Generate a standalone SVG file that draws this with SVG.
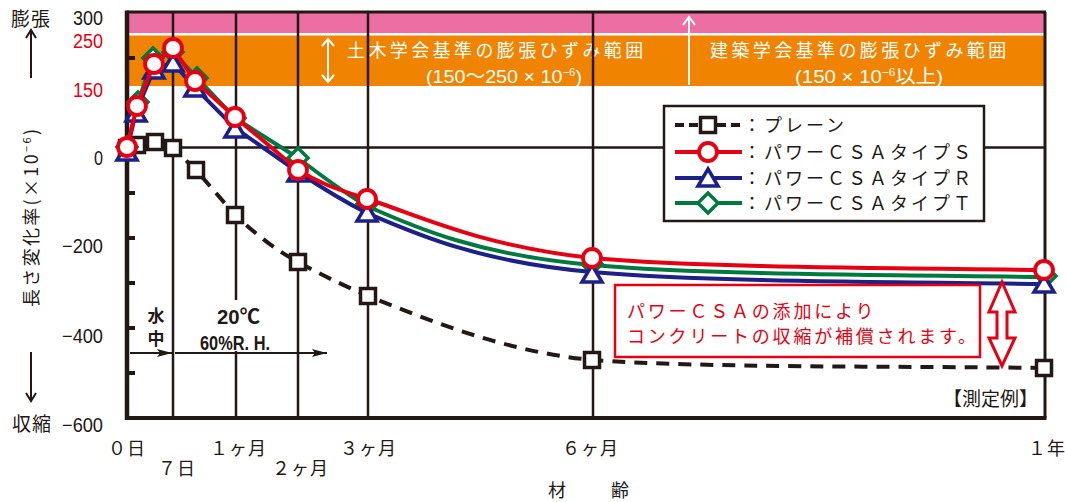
<svg xmlns="http://www.w3.org/2000/svg" width="1065" height="502" viewBox="0 0 1065 502">
<style>
.jp{font-family:"Noto Sans CJK JP","Noto Sans",sans-serif;}
.num{font-family:"Liberation Sans","Noto Sans CJK JP",sans-serif;}
.grid{stroke:#231815;stroke-width:2.5;fill:none;}
.k{fill:#231815;}
.w{fill:#fff;}
.r{fill:#e60012;}
.wl{stroke:#fff;stroke-width:2;fill:none;}
.kl{stroke:#231815;stroke-width:2;fill:none;}
.lgt{font-size:18px;letter-spacing:3px;}
</style>
<defs>
<g id="mSq"><rect x="-7.5" y="-7.5" width="15" height="15" fill="#fff" stroke="#231815" stroke-width="3.5"/></g>
<g id="mCi"><circle r="9" fill="#fff" stroke="#e60012" stroke-width="3.8"/></g>
<g id="mTr"><path d="M0,-9 L10,8 L-10,8 Z" fill="#fff" stroke="#1d2088" stroke-width="3.5"/></g>
<g id="mDi"><path d="M0,-10 L10,0 L0,10 L-10,0 Z" fill="#fff" stroke="#00793f" stroke-width="3.5"/></g>
<marker id="ah" markerWidth="15" markerHeight="8" refX="15" refY="4" orient="auto" markerUnits="userSpaceOnUse"><path d="M0,0 L15,4 L0,8 L3,4 Z" fill="#231815"/></marker>
</defs>
<rect x="0" y="0" width="1065" height="502" fill="#fff"/>

<g id="bands">
<rect x="127" y="13" width="918" height="20" fill="#ec6ea2"/>
<rect x="127" y="35.5" width="918" height="50.5" fill="#f08300"/>
<path class="wl" d="M328,39 V82 M322,46 L328,39 L334,46 M322,75 L328,82 L334,75"/>
<path class="wl" d="M689,85 V17 M683,25 L689,17 L695,25"/>
<text class="jp w" x="347" y="57" font-size="18" letter-spacing="3.4">土木学会基準の膨張ひずみ範囲</text>
<text class="num w" x="426" y="83" font-size="19" textLength="156" lengthAdjust="spacingAndGlyphs">(150～250 × 10<tspan font-size="11" dy="-7">−6</tspan><tspan dy="7">)</tspan></text>
<text class="jp w" x="710" y="57" font-size="18" letter-spacing="3.4">建築学会基準の膨張ひずみ範囲</text>
<text class="num w" x="795" y="83" font-size="19" textLength="148" lengthAdjust="spacingAndGlyphs">(150 × 10<tspan font-size="11" dy="-7">−6</tspan><tspan dy="7">以上)</tspan></text>
</g>

<g id="grid">
<path class="grid" d="M173,12 V418 M298,12 V418 M368,12 V418 M593,12 V418 M236,12 V418 M127,147.5 H1045"/>
</g>

<g id="frame">
<path d="M127,12 H1046 M1045,12 V418" stroke="#231815" stroke-width="3" fill="none"/>
<path d="M127,10.5 V420" stroke="#231815" stroke-width="4.5" fill="none"/>
<path d="M125,418 H1046.5" stroke="#231815" stroke-width="4" fill="none"/>
<path d="M127,58 h8 M127,103 h8 M127,193 h8 M127,238 h8 M127,283 h8 M127,328 h8 M127,373 h8" stroke="#231815" stroke-width="4" fill="none"/>
</g>

<g id="y-labels">
<text class="num k" x="73" y="25" font-size="20" textLength="30" lengthAdjust="spacingAndGlyphs">300</text>
<text class="num r" x="73" y="48" font-size="20" textLength="30" lengthAdjust="spacingAndGlyphs">250</text>
<text class="num r" x="73" y="97" font-size="20" textLength="30" lengthAdjust="spacingAndGlyphs">150</text>
<text class="num k" x="94" y="165" font-size="20" textLength="9" lengthAdjust="spacingAndGlyphs">0</text>
<text class="num k" x="62" y="253" font-size="20" textLength="41" lengthAdjust="spacingAndGlyphs">−200</text>
<text class="num k" x="62" y="343" font-size="20" textLength="41" lengthAdjust="spacingAndGlyphs">−400</text>
<text class="num k" x="62" y="432" font-size="20" textLength="41" lengthAdjust="spacingAndGlyphs">−600</text>
<text class="jp k" x="31" y="26" font-size="19" text-anchor="middle" letter-spacing="1">膨張</text>
<path class="kl" d="M31,78 V30 M26,38 L31,30 L36,38"/>
<text class="jp k" transform="translate(38,218) rotate(-90)" x="-89" y="0" font-size="18" textLength="178" lengthAdjust="spacing">長さ変化率(×10<tspan font-size="11" dy="-7">−6</tspan><tspan dy="7">)</tspan></text>
<path class="kl" d="M31,352 V401 M26,393 L31,401 L36,393"/>
<text class="jp k" x="32" y="431" font-size="19" text-anchor="middle" letter-spacing="1">収縮</text>
</g>

<g id="x-labels" class="jp k" font-size="18">
<text x="108" y="455" letter-spacing="1">０日</text>
<text x="158" y="475" letter-spacing="1">７日</text>
<text x="210" y="455" letter-spacing="1">１ヶ月</text>
<text x="272" y="475" letter-spacing="1">２ヶ月</text>
<text x="340" y="455" letter-spacing="1">３ヶ月</text>
<text x="562" y="455" letter-spacing="1">６ヶ月</text>
<text x="1028" y="455" letter-spacing="1">１年</text>
<text x="548" y="497">材</text>
<text x="611" y="497">齢</text>
</g>

<g id="conditions">
<rect x="203" y="300" width="66" height="51" fill="#fff"/>
<text class="jp k" x="156" y="322" font-size="17" font-weight="bold" text-anchor="middle">水</text>
<text class="jp k" x="156" y="345" font-size="17" font-weight="bold" text-anchor="middle">中</text>
<text class="num k" x="217" y="324" font-size="20" font-weight="bold" textLength="43" lengthAdjust="spacingAndGlyphs">20℃</text>
<text class="num k" x="200" y="350" font-size="20" font-weight="bold" textLength="70" lengthAdjust="spacingAndGlyphs">60%R. H.</text>
<line x1="130" y1="353" x2="172" y2="353" stroke="#231815" stroke-width="2" marker-end="url(#ah)"/>
<line x1="175" y1="353" x2="327" y2="353" stroke="#231815" stroke-width="2" marker-end="url(#ah)"/>
</g>

<g id="connectors">
<g id="plain">
<path d="M127,148 L137,145 L155,142 L173,148 L196,170 L235,215 C258,236 276,250 298,262 C320,274 340,284 368,296 C440,325 510,352 592,360 C705,368 900,366 1044,368" fill="none" stroke="#231815" stroke-width="4" stroke-dasharray="13,9"/>
<use href="#mSq" x="127" y="148"/><use href="#mSq" x="137" y="145"/><use href="#mSq" x="155" y="142"/><use href="#mSq" x="173" y="148"/><use href="#mSq" x="196" y="170"/><use href="#mSq" x="235" y="215"/><use href="#mSq" x="298" y="262"/><use href="#mSq" x="368" y="296"/><use href="#mSq" x="592" y="360"/><use href="#mSq" x="1044" y="368"/>
</g>
<g id="typeT">
<path d="M127,147 L138,102 L153,58 L173,52 L197,78 L235,118 L298,158 C322,176 345,194 367,206 C416,228 479,255 592,265 C705,275 900,275 1044,277" fill="none" stroke="#00793f" stroke-width="4"/>
<use href="#mDi" x="127" y="147"/><use href="#mDi" x="138" y="102"/><use href="#mDi" x="153" y="58"/><use href="#mDi" x="173" y="52"/><use href="#mDi" x="197" y="78"/><use href="#mDi" x="235" y="118"/><use href="#mDi" x="298" y="158"/><use href="#mDi" x="367" y="204"/><use href="#mDi" x="592" y="264"/><use href="#mDi" x="1046" y="276"/>
</g>
<g id="typeR">
<path d="M127,150 L136,112 L154,69 L173,63 L195,88 L235,128 L298,172 C322,188 345,202 367,213 C416,234 479,262 592,272 C705,282 900,282 1044,284" fill="none" stroke="#1d2088" stroke-width="4"/>
<use href="#mTr" x="127" y="152"/><use href="#mTr" x="136" y="113"/><use href="#mTr" x="154" y="70"/><use href="#mTr" x="173" y="63"/><use href="#mTr" x="195" y="88"/><use href="#mTr" x="235" y="129"/><use href="#mTr" x="298" y="173"/><use href="#mTr" x="367" y="213"/><use href="#mTr" x="592" y="274"/><use href="#mTr" x="1044" y="284"/>
</g>
<g id="typeS">
<path d="M127,147 L137,106 L154,64 L173,48 L195,81 L235,117 L298,170 C320,184 340,190 367,199 C416,214 479,246 592,258 C705,268 900,268 1044,270" fill="none" stroke="#e60012" stroke-width="4"/>
<use href="#mCi" x="127" y="147"/><use href="#mCi" x="137" y="106"/><use href="#mCi" x="154" y="64"/><use href="#mCi" x="173" y="48"/><use href="#mCi" x="195" y="81"/><use href="#mCi" x="235" y="117"/><use href="#mCi" x="298" y="170"/><use href="#mCi" x="367" y="199"/><use href="#mCi" x="592" y="258"/><use href="#mCi" x="1044" y="270"/>
</g>
</g>

<g id="legend">
<rect x="664" y="106" width="320" height="115" fill="#fff" stroke="#231815" stroke-width="2.5"/>
<path d="M675,125 H742" stroke="#231815" stroke-width="4" stroke-dasharray="9,5"/>
<use href="#mSq" x="708" y="125"/>
<text class="jp k lgt" x="743" y="132">：プレーン</text>
<path d="M675,152 H742" stroke="#e60012" stroke-width="4"/>
<use href="#mCi" x="708" y="152"/>
<text class="jp k lgt" x="743" y="159">：パワーＣＳＡタイプＳ</text>
<path d="M675,178 H742" stroke="#1d2088" stroke-width="4"/>
<use href="#mTr" x="708" y="178"/>
<text class="jp k lgt" x="743" y="185">：パワーＣＳＡタイプＲ</text>
<path d="M675,203 H742" stroke="#00793f" stroke-width="4"/>
<use href="#mDi" x="708" y="203"/>
<text class="jp k lgt" x="743" y="210">：パワーＣＳＡタイプＴ</text>
</g>

<g id="note">
<rect x="615" y="285" width="365" height="72" fill="#fff" stroke="#e60012" stroke-width="2.5"/>
<text class="jp r" x="627" y="318" font-size="18" letter-spacing="2.8">パワーＣＳＡの添加により</text>
<text class="jp r" x="627" y="343" font-size="18" letter-spacing="2.8">コンクリートの収縮が補償されます。</text>
<path d="M1002,282 L1015,312 L1007,312 L1007,338 L1015,338 L1002,366 L989,338 L997,338 L997,312 L989,312 Z" fill="#fff" stroke="#e60012" stroke-width="3"/>
</g>

<g id="example">
<text class="jp k" x="943" y="406" font-size="19">【測定例】</text>
</g>
</svg>
